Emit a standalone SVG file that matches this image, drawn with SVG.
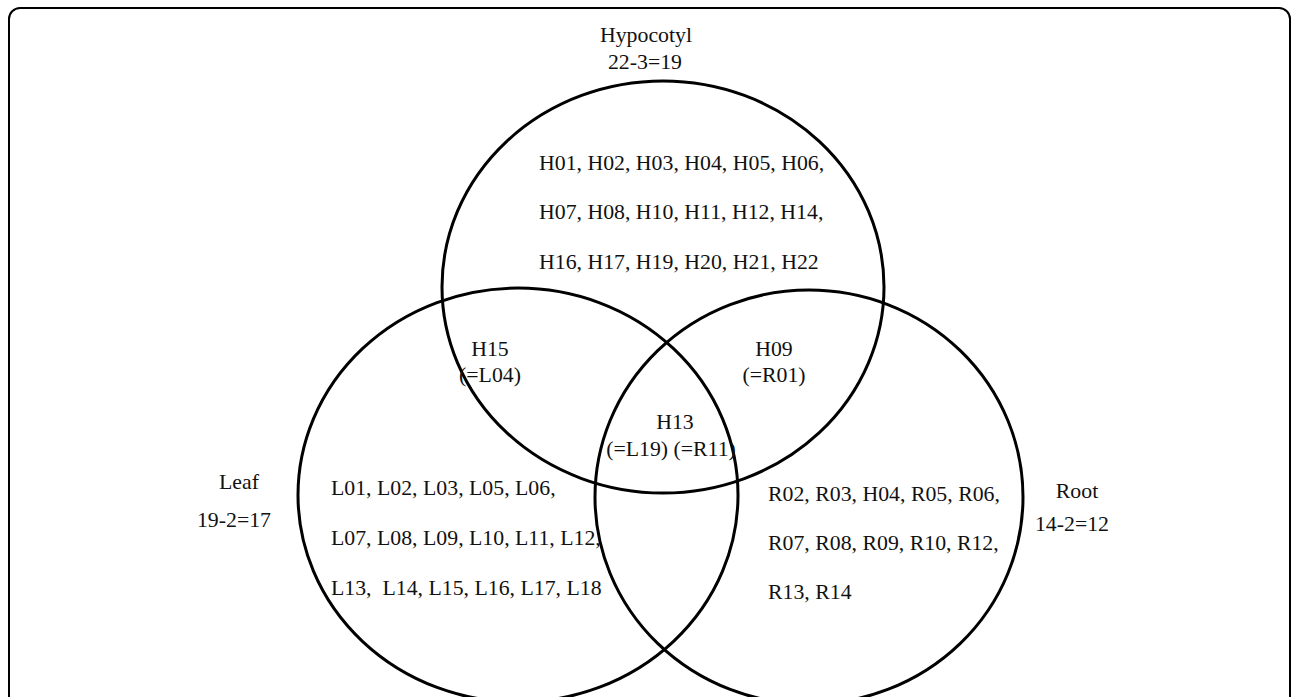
<svg xmlns="http://www.w3.org/2000/svg" width="1292" height="697" viewBox="0 0 1292 697">
<style>
  .t { font-family: "Liberation Serif", "Times New Roman", serif; font-size: 21.8px; fill: #111; }
  .c { text-anchor: middle; }
  .set { fill: none; stroke: #000; stroke-width: 3; }
  .frame { fill: none; stroke: #000; stroke-width: 2; }
</style>
<rect width="1292" height="697" fill="#fff"/>
<rect class="frame" x="9" y="8" width="1281" height="730" rx="11" ry="11"/>
<g id="sets">
  <g id="hypocotyl">
    <ellipse class="set" cx="663" cy="287" rx="221" ry="206"/>
    <text class="t c" x="646" y="42">Hypocotyl</text>
    <text class="t c" x="645" y="69">22-3=19</text>
    <text class="t" x="539" y="170">H01, H02, H03, H04, H05, H06,</text>
    <text class="t" x="539" y="219">H07, H08, H10, H11, H12, H14,</text>
    <text class="t" x="539" y="269">H16, H17, H19, H20, H21, H22</text>
  </g>
  <g id="leaf">
    <ellipse class="set" cx="518" cy="495" rx="220" ry="207"/>
    <text class="t c" x="239" y="489">Leaf</text>
    <text class="t c" x="234" y="527">19-2=17</text>
    <text class="t" x="331" y="495">L01, L02, L03, L05, L06,</text>
    <text class="t" x="331" y="545">L07, L08, L09, L10, L11, L12,</text>
    <text class="t" x="331" y="595" xml:space="preserve">L13,  L14, L15, L16, L17, L18</text>
  </g>
  <g id="root">
    <ellipse class="set" cx="809" cy="497" rx="214" ry="207"/>
    <text class="t c" x="1077" y="498">Root</text>
    <text class="t c" x="1072" y="531">14-2=12</text>
    <text class="t" x="768" y="501">R02, R03, H04, R05, R06,</text>
    <text class="t" x="768" y="550">R07, R08, R09, R10, R12,</text>
    <text class="t" x="768" y="599">R13, R14</text>
  </g>
  <g id="hypocotyl-leaf">
    <text class="t c" x="490" y="356">H15</text>
    <text class="t c" x="490" y="382">(=L04)</text>
  </g>
  <g id="hypocotyl-root">
    <text class="t c" x="774" y="356">H09</text>
    <text class="t c" x="774" y="382">(=R01)</text>
  </g>
  <g id="all-three">
    <text class="t c" x="675" y="429">H13</text>
    <text class="t c" x="671" y="456">(=L19) (=R11)</text>
  </g>
</g>
<g id="connectors"/>
</svg>
